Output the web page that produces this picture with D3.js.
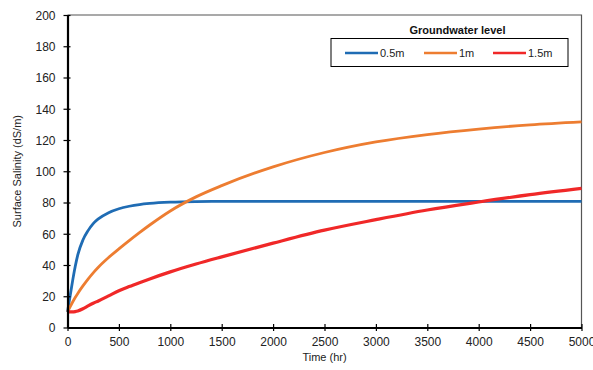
<!DOCTYPE html>
<html>
<head>
<meta charset="utf-8">
<script src="https://cdn.jsdelivr.net/npm/d3@7"></script>
<style>
  body { margin: 0; background: #fff; }
  svg { font-family: "Liberation Sans", Arial, sans-serif; }
</style>
</head>
<body>
<svg width="593" height="370"></svg>
<script>
// Data
var times = [0, 25, 50, 75, 100, 150, 200, 250, 300, 400, 500, 600, 700, 800, 1000, 1250, 1500, 2000, 2500, 3000, 3500, 4000, 4500, 5000];
var level05 = [10, 20, 30, 39, 46.5, 56, 62, 66.5, 69.5, 73.5, 76, 77.6, 78.7, 79.4, 80.2, 80.6, 80.7, 80.7, 80.7, 80.7, 80.7, 80.7, 80.7, 80.7];
var level1 = [10, 13.2, 16.3, 19.2, 21.8, 26.6, 31, 35, 38.6, 44.8, 50.3, 55.6, 60.7, 65.6, 74.6, 83.6, 90.8, 102.8, 112, 118.8, 123.5, 127, 129.7, 131.6];
var level15 = [10, 10, 10, 10.2, 10.6, 12, 13.8, 15.5, 17, 20.2, 23.5, 26.2, 28.7, 31.1, 35.6, 40.6, 45.2, 54, 62.3, 69, 75.2, 80.3, 85, 89];
var seriesNames = ["0.5m", "1m", "1.5m"];
var seriesColors = ["#1F6CB4", "#ED7D31", "#F02828"];
var xTicks = d3.range(0, 5001, 500);
var yTicks = d3.range(0, 201, 20);

var svg = d3.select("svg");
var plotL = 67.5, plotR = 581.5, plotT = 15, plotB = 327.5;

var x = d3.scaleLinear().domain([0, 5000]).range([plotL, plotR]);
var y = d3.scaleLinear().domain([0, 200]).range([plotB, plotT]);

// frame (top/right)
svg.append("path")
  .attr("d", "M" + plotL + "," + plotT + "H" + plotR + "V" + plotB)
  .attr("fill", "none")
  .attr("stroke", "#555")
  .attr("stroke-width", 1.2);

// lines
var series = [level05, level1, level15];
var line = d3.line()
  .x(function (d, i) { return x(times[i]); })
  .y(function (d) { return y(d); })
  .curve(d3.curveMonotoneX);

svg.append("g")
  .selectAll("path")
  .data(series)
  .enter()
  .append("path")
  .attr("d", line)
  .attr("fill", "none")
  .attr("stroke", function (d, i) { return seriesColors[i]; })
  .attr("stroke-width", function (d, i) { return i == 2 ? 3.2 : 2.8; })
  .attr("stroke-linejoin", "round");

// axes
var xAxis = svg.append("g")
  .attr("transform", "translate(0," + plotB + ")")
  .call(d3.axisBottom(x).tickValues(xTicks).tickFormat(d3.format("d")).tickSize(0).tickPadding(10));
var yAxis = svg.append("g")
  .attr("transform", "translate(" + plotL + ",0)")
  .call(d3.axisLeft(y).tickValues(yTicks).tickFormat(d3.format("d")).tickSize(0).tickPadding(12));

[xAxis, yAxis].forEach(function (ax) {
  ax.select(".domain").attr("stroke", "#000").attr("stroke-width", 2.2);
  ax.selectAll("text").attr("font-size", 12).attr("fill", "#222")
    .style("font-family", "'Liberation Sans', Arial, sans-serif");
});
xAxis.selectAll(".tick").append("line")
  .attr("y1", -3.5).attr("y2", 3.5).attr("stroke", "#000").attr("stroke-width", 1.2);
yAxis.selectAll(".tick").append("line")
  .attr("x1", -4).attr("x2", 3).attr("stroke", "#000").attr("stroke-width", 1.2);
yAxis.selectAll("text").attr("dy", "0.36em");

// axis titles
svg.append("text")
  .attr("x", (plotL + plotR) / 2)
  .attr("y", 361)
  .attr("text-anchor", "middle")
  .attr("font-size", 11)
  .attr("fill", "#222")
  .text("Time (hr)");

svg.append("text")
  .attr("transform", "translate(21," + (plotT + plotB) / 2 + ") rotate(-90)")
  .attr("text-anchor", "middle")
  .attr("font-size", 11)
  .attr("fill", "#222")
  .text("Surface Salinity (dS/m)");

// legend
svg.append("text")
  .attr("x", 457.5)
  .attr("y", 34)
  .attr("text-anchor", "middle")
  .attr("font-size", 11)
  .attr("font-weight", "bold")
  .attr("fill", "#111")
  .text("Groundwater level");

svg.append("rect")
  .attr("x", 331).attr("y", 38.5)
  .attr("width", 237).attr("height", 28)
  .attr("fill", "#fff").attr("stroke", "#000").attr("stroke-width", 1);

var legendX = [345, 424, 493];
var legend = svg.append("g")
  .selectAll("g")
  .data(seriesNames)
  .enter()
  .append("g")
  .attr("transform", function (d, i) { return "translate(" + legendX[i] + ",53)"; });
legend.append("line")
  .attr("x1", 0).attr("x2", 33)
  .attr("stroke", function (d, i) { return seriesColors[i]; })
  .attr("stroke-width", 2.5);
legend.append("text")
  .attr("x", 35)
  .attr("dy", "0.35em")
  .attr("font-size", 11)
  .attr("fill", "#222")
  .text(function (d) { return d; });
</script>
</body>
</html>
